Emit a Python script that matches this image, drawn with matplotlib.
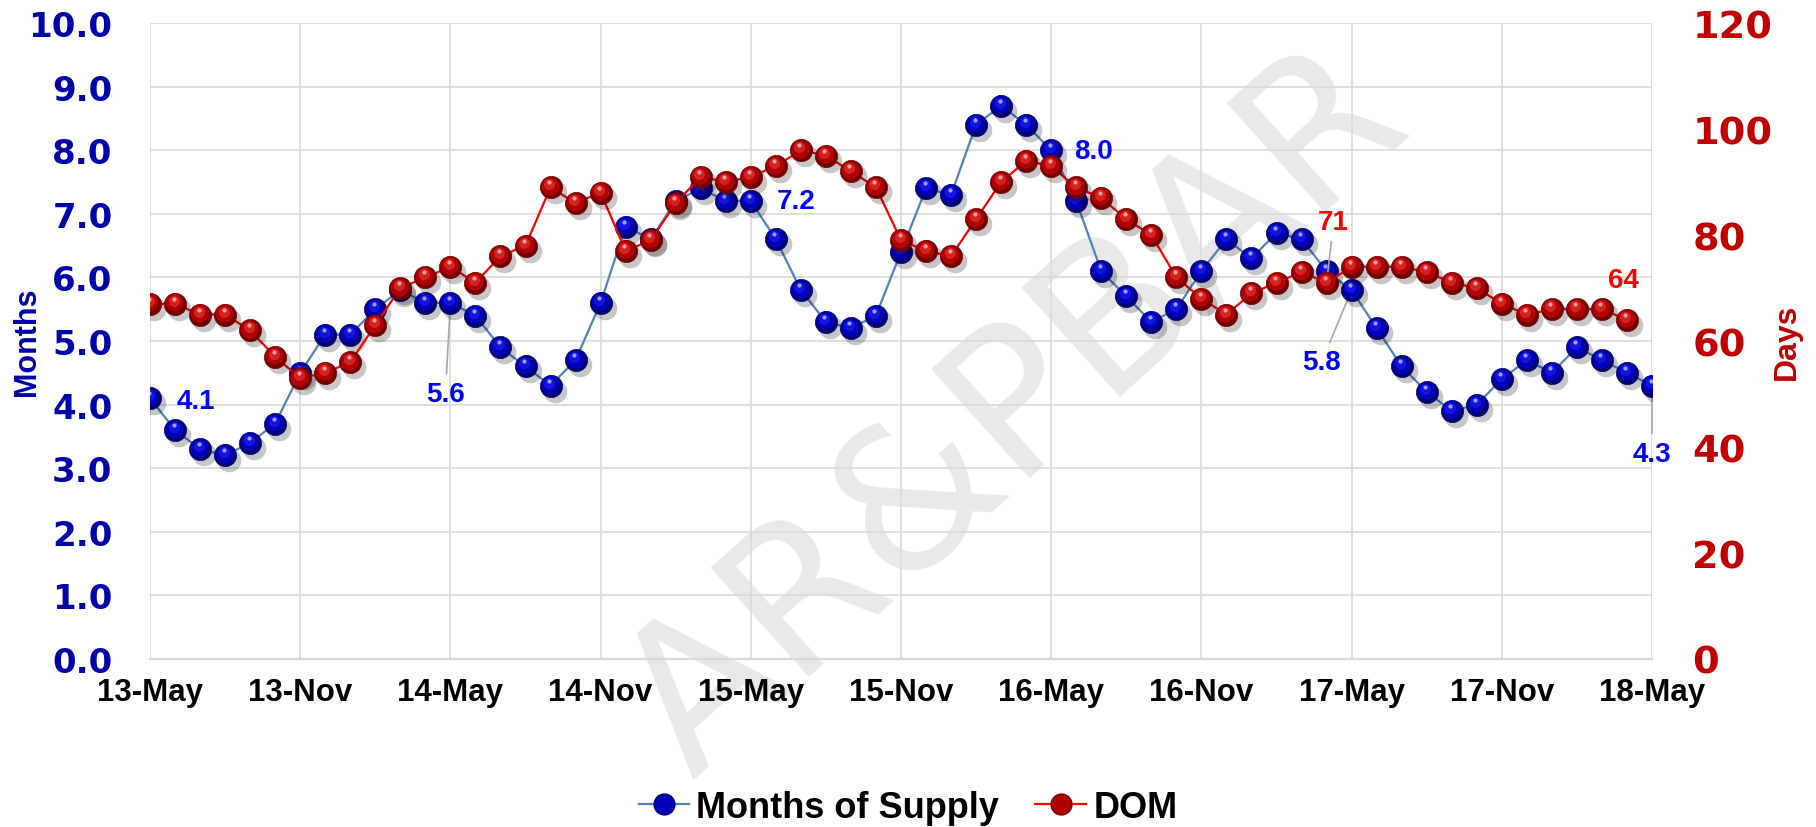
import numpy as np
import matplotlib
matplotlib.use('Agg')
import matplotlib.pyplot as plt
import matplotlib.transforms as mtransforms
from matplotlib.lines import Line2D

plt.rcParams['font.family'] = ['Liberation Sans', 'DejaVu Sans']
plt.rcParams['font.weight'] = 'bold'

# monthly, 13-May .. 18-May
supply = [4.1, 3.6, 3.3, 3.2, 3.4, 3.7, 4.5, 5.1, 5.1, 5.5, 5.8, 5.6, 5.6, 5.4, 4.9, 4.6,
          4.3, 4.7, 5.6, 6.8, 6.6, 7.2, 7.4, 7.2, 7.2, 6.6, 5.8, 5.3, 5.2, 5.4, 6.4, 7.4,
          7.3, 8.4, 8.7, 8.4, 8.0, 7.2, 6.1, 5.7, 5.3, 5.5, 6.1, 6.6, 6.3, 6.7, 6.6, 6.1,
          5.8, 5.2, 4.6, 4.2, 3.9, 4.0, 4.4, 4.7, 4.5, 4.9, 4.7, 4.5, 4.3]
dom = [67, 67, 65, 65, 62, 57, 53, 54, 56, 63, 70, 72, 74, 71, 76, 78, 89, 86, 88, 77,
       79, 86, 91, 90, 91, 93, 96, 95, 92, 89, 79, 77, 76, 83, 90, 94, 93, 89, 87, 83,
       80, 72, 68, 65, 69, 71, 73, 71, 74, 74, 74, 73, 71, 70, 67, 65, 66, 66, 66, 64, np.nan]
xlabels = ['13-May', '13-Nov', '14-May', '14-Nov', '15-May', '15-Nov',
           '16-May', '16-Nov', '17-May', '17-Nov', '18-May']
left_ticks = [0, 1, 2, 3, 4, 5, 6, 7, 8, 9, 10]
right_ticks = [0, 20, 40, 60, 80, 100, 120]

# labelled points: index -> offset in pixels, leader line?
supply_labels = {0: (46, -3, False), 12: (-5, -91, True), 24: (45, 0, False),
                 36: (42, -1, False), 48: (-30, -72, True), 60: (0, -68, True)}
dom_labels = {47: (7, 61, True), 59: (-4, 40, False)}

x = np.arange(len(supply))

fig = plt.figure(figsize=(18.16, 8.28), dpi=100)
ax = fig.add_subplot(111)
fig.subplots_adjust(left=0.0826, right=0.9097, bottom=0.2029, top=0.971)
ax2 = ax.twinx()
ax.patch.set_visible(False)

fig.text(0.56, 0.50, 'AR&PBAR', rotation=42, fontsize=145, color='#e8e8e8',
         ha='center', va='center', zorder=-1, family='DejaVu Sans', fontweight='normal')


def balls(a, xs, ys, shades, z):
    sh = mtransforms.offset_copy(a.transData, fig=fig, x=4, y=-5, units='dots')
    a.plot(xs, ys, 'o', ms=17, color='black', alpha=0.22, mec='none', transform=sh, zorder=z)
    a.plot(xs, ys, 'o', ms=16, mfc=shades[0], mec=shades[0], mew=0.5, zorder=z + 0.1)
    layers = [(13, -1, 1.5, shades[1]), (8, -1.5, 3, shades[2]), (3, -1.5, 5, shades[3])]
    for k, (s, dx, dy, c) in enumerate(layers):
        tr = mtransforms.offset_copy(a.transData, fig=fig, x=dx, y=dy, units='dots')
        a.plot(xs, ys, 'o', ms=s, color=c, mec='none', transform=tr, zorder=z + 0.2 + k * 0.1)


blue_sh = ['#00006e', '#0000b8', '#1414e0', '#a0a0ff']
red_sh = ['#6e0000', '#b00000', '#d42222', '#ffa0a0']

ax.plot(x, supply, color='#4f81bd', lw=1.6, zorder=3)
balls(ax, x, supply, blue_sh, 4)
ax2.plot(x, dom, color='#ff0000', lw=1.6, zorder=3)
balls(ax2, x, dom, red_sh, 4)

for i, (dx, dy, lead) in supply_labels.items():
    ax.annotate(f'{supply[i]:.1f}', (x[i], supply[i]), xytext=(dx, dy), textcoords='offset pixels',
                ha='center', va='center', color='#0000ff', fontsize=20, fontweight='bold', zorder=3,
                arrowprops=dict(arrowstyle='-', color='#a6a6a6', lw=1.2, shrinkA=3, shrinkB=0) if lead else None)
for i, (dx, dy, lead) in dom_labels.items():
    ax2.annotate(f'{dom[i]:.0f}', (x[i], dom[i]), xytext=(dx, dy), textcoords='offset pixels',
                 ha='center', va='center', color='#ff0000', fontsize=20, fontweight='bold', zorder=3,
                 arrowprops=dict(arrowstyle='-', color='#a6a6a6', lw=1.2, shrinkA=3, shrinkB=0) if lead else None)

ax.set_xlim(0, 60)
ax.set_xticks(np.arange(0, 61, 6))
ax.set_xticklabels(xlabels, fontsize=22.5, fontweight='bold', color='black')
ax.set_ylim(0, 10)
ax.set_yticks(left_ticks)
ax.set_yticklabels([f'{v:.1f}' for v in left_ticks], family='DejaVu Sans', fontweight='bold',
                   fontsize=24.5, color='#0000aa')
ax2.set_ylim(0, 120)
ax2.set_yticks(right_ticks)
ax2.set_yticklabels([str(v) for v in right_ticks], family='DejaVu Sans', fontsize=27.5,
                    fontweight='bold', color='#c00000')

ax.tick_params(axis='x', length=0, pad=13)
ax.tick_params(axis='y', length=0, pad=27)
ax2.tick_params(axis='y', length=0, pad=29)

ax.grid(True, color='#d9d9d9', lw=1.2)
ax.set_axisbelow(True)
for s in ['top', 'left', 'right']:
    ax.spines[s].set_visible(False)
ax.spines['bottom'].set_color('#d9d9d9')
ax.spines['bottom'].set_linewidth(1.6)
for s in ax2.spines.values():
    s.set_visible(False)

fig.text(27 / 1816, 1 - 342 / 828, 'Months', rotation=90, ha='center', va='center',
         fontsize=22, fontweight='bold', color='#0000aa')
fig.text(1787 / 1816, 1 - 342 / 828, 'Days', rotation=90, ha='center', va='center',
         fontsize=23, fontweight='bold', color='#c00000')

handles = [Line2D([], [], color='#4f81bd', lw=1.6, marker='o', ms=15, mfc='#0000b8', mec='#00006e'),
           Line2D([], [], color='#ff0000', lw=1.6, marker='o', ms=15, mfc='#b00000', mec='#6e0000')]
fig.legend(handles, ['Months of Supply', 'DOM'], loc='center', bbox_to_anchor=(0.5, 0.024), ncol=2,
           frameon=False, prop=dict(family='Liberation Sans', weight='bold', size=26),
           handlelength=1.4, columnspacing=1.0, handletextpad=0.2)

fig.savefig('out.png', dpi=100)
